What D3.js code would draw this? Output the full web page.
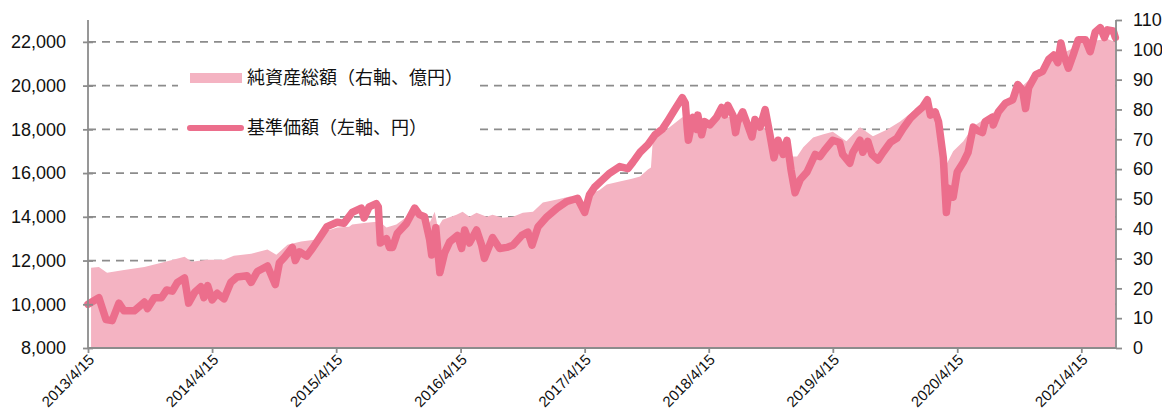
<!DOCTYPE html>
<html>
<head>
<meta charset="utf-8">
<script src="https://cdn.jsdelivr.net/npm/d3@7"></script>
<style>
  body { margin: 0; background: #fff; }
  svg { display: block; }
</style>
</head>
<body>
<svg id="chart"></svg>
<script>
// 基準価額 (left axis, yen)
var navDates = ["2013-04-15","2013-05-17","2013-06-07","2013-06-25","2013-07-15","2013-07-30","2013-08-29","2013-09-28","2013-10-07","2013-10-27",
  "2013-11-17","2013-12-02","2013-12-19","2014-01-03","2014-01-24","2014-02-05","2014-02-23","2014-03-13","2014-03-22","2014-04-02",
  "2014-04-15","2014-04-30","2014-05-20","2014-06-09","2014-06-28","2014-07-27","2014-08-08","2014-08-26","2014-09-25","2014-10-18",
  "2014-10-30","2014-11-14","2014-12-07","2014-12-16","2014-12-28","2015-01-18","2015-02-04","2015-03-02","2015-03-19","2015-04-18",
  "2015-05-08","2015-06-01","2015-06-28","2015-07-06","2015-07-21","2015-08-11","2015-08-17","2015-08-23","2015-09-10","2015-09-19",
  "2015-09-28","2015-10-12","2015-11-08","2015-12-02","2015-12-16","2015-12-31","2016-01-15","2016-01-21","2016-02-02","2016-02-14",
  "2016-02-28","2016-03-14","2016-04-06","2016-04-18","2016-04-27","2016-05-11","2016-06-01","2016-06-16","2016-06-24","2016-07-18",
  "2016-08-08","2016-08-29","2016-09-16","2016-10-12","2016-10-30","2016-11-11","2016-11-29","2016-12-25","2017-01-24","2017-02-22",
  "2017-03-25","2017-04-15","2017-04-29","2017-05-14","2017-06-07","2017-06-28","2017-07-27","2017-08-20","2017-09-04","2017-09-25",
  "2017-10-18","2017-11-08","2017-11-29","2017-12-14","2018-01-01","2018-01-27","2018-02-05","2018-02-11","2018-02-14","2018-02-28",
  "2018-03-11","2018-03-14","2018-03-25","2018-04-03","2018-04-18","2018-05-08","2018-05-23","2018-06-01","2018-06-10","2018-06-25",
  "2018-07-03","2018-07-09","2018-07-24","2018-08-05","2018-08-20","2018-08-29","2018-09-13","2018-09-28","2018-10-12","2018-10-24",
  "2018-11-05","2018-11-20","2018-12-01","2018-12-13","2018-12-25","2019-01-09","2019-01-29","2019-02-22","2019-03-08","2019-03-22",
  "2019-04-15","2019-05-05","2019-05-14","2019-06-04","2019-06-13","2019-07-04","2019-07-12","2019-07-27","2019-08-08","2019-08-26",
  "2019-09-10","2019-10-01","2019-10-21","2019-11-08","2019-11-29","2019-12-19","2020-01-03","2020-01-18","2020-01-27","2020-02-10",
  "2020-02-20","2020-03-05","2020-03-14","2020-03-22","2020-04-03","2020-04-15","2020-05-03","2020-05-17","2020-06-01","2020-06-13",
  "2020-06-28","2020-07-06","2020-07-27","2020-07-30","2020-08-14","2020-09-04","2020-09-25","2020-10-10","2020-10-24","2020-11-02",
  "2020-11-11","2020-12-02","2020-12-22","2021-01-09","2021-01-24","2021-02-05","2021-02-14","2021-02-22","2021-03-08","2021-03-22",
  "2021-04-06","2021-04-27","2021-05-11","2021-05-26","2021-06-10","2021-06-22","2021-07-01","2021-07-18","2021-07-24"];
var navValues = [10000,10300,9300,9250,10050,9700,9700,10100,9800,10300,
  10300,10650,10600,11000,11200,10050,10550,10800,10300,10850,
  10200,10500,10250,11000,11250,11300,11000,11500,11750,10900,
  11900,12150,12600,12000,12400,12200,12550,13150,13550,13750,
  13700,14200,14400,13950,14450,14600,14450,12800,13000,12600,
  12600,13250,13700,14400,14100,14000,12950,12250,13500,11450,
  12350,12850,13150,12550,13400,12800,13400,12700,12100,13050,
  12550,12600,12700,13150,13300,12700,13550,14000,14400,14700,
  14850,14200,15000,15350,15700,16000,16300,16200,16500,16950,
  17300,17750,18000,18350,18800,19450,19200,18000,17500,18550,
  18000,18650,17750,18350,18200,18550,19000,18650,19100,18650,
  17850,18350,18800,18300,17650,18450,18100,18900,17750,16700,
  17500,16850,17500,16150,15100,15700,16050,16850,16750,17050,
  17500,17400,16850,16450,16950,17500,16950,17450,16850,16600,
  16950,17400,17600,18050,18500,18800,19000,19350,18650,18800,
  18350,16700,14200,15300,14900,16050,16500,16950,18100,17950,
  17850,18350,18550,18200,18800,19200,19350,20050,19800,18950,
  19900,20500,20650,21200,21400,21050,21950,21400,20800,21400,
  22100,22100,21550,22450,22650,22200,22550,22500,22200];

// 純資産総額 (right axis, 億円)
var aumDates = ["2013-04-24","2013-05-17","2013-06-10","2013-07-30","2013-09-28","2013-11-17","2014-01-24","2014-02-14","2014-03-31","2014-05-20",
  "2014-06-18","2014-08-08","2014-09-25","2014-10-21","2014-11-23","2015-01-02","2015-02-10","2015-03-10","2015-04-18","2015-05-23",
  "2015-06-01","2015-07-12","2015-08-20","2015-09-10","2015-10-09","2015-11-25","2015-12-25","2016-01-15","2016-01-30","2016-02-08",
  "2016-02-22","2016-04-03","2016-04-21","2016-05-11","2016-06-01","2016-07-01","2016-07-18","2016-08-17","2016-09-16","2016-10-15",
  "2016-11-14","2016-12-13","2017-01-24","2017-03-02","2017-03-31","2017-04-21","2017-05-08","2017-05-29","2017-06-19","2017-07-27",
  "2017-09-01","2017-09-25","2017-10-18","2017-10-27","2017-11-02","2017-12-01","2018-01-01","2018-01-27","2018-02-19","2018-03-28",
  "2018-04-27","2018-05-26","2018-06-25","2018-07-24","2018-08-23","2018-09-22","2018-10-21","2018-11-20","2018-12-16","2018-12-31",
  "2019-01-18","2019-02-16","2019-03-16","2019-04-15","2019-05-25","2019-07-04","2019-08-11","2019-09-22","2019-10-30","2019-12-07",
  "2020-01-18","2020-02-10","2020-02-25","2020-03-08","2020-03-16","2020-04-03","2020-05-03","2020-06-01","2020-07-12","2020-08-20",
  "2020-09-28","2020-11-08","2020-12-16","2021-01-24","2021-03-05","2021-04-12","2021-05-20","2021-07-01","2021-07-24"];
var aumValues = [26.9,27.2,25.2,26.2,27.2,28.6,30.6,28.9,29.6,29.6,
  30.9,31.6,33.0,31.3,34.6,35.7,36.3,39.0,40.4,40.7,
  41.4,42.0,42.4,40.4,41.4,45.4,44.7,42.0,45.7,40.4,
  43.0,44.7,45.7,44.0,45.4,44.0,44.7,43.7,44.0,45.4,
  45.7,48.8,49.8,50.8,50.5,46.4,52.0,53.0,54.8,55.8,
  56.8,57.5,59.9,60.5,70.6,72.3,75.0,77.4,76.7,75.0,
  76.7,77.7,77.4,76.0,75.0,74.0,70.0,67.3,64.2,64.2,
  67.3,70.6,71.6,72.5,69.3,74.0,71.0,73.3,76.0,79.4,
  81.7,80.0,74.0,66.0,62.0,66.0,69.3,74.3,77.4,80.7,
  85.1,89.5,93.5,97.5,99.6,101.9,103.0,103.6,102.6];

var leftTicks = [8000,10000,12000,14000,16000,18000,20000,22000];
var rightTicks = [0,10,20,30,40,50,60,70,80,90,100,110];
var xTickLabels = ["2013/4/15","2014/4/15","2015/4/15","2016/4/15","2017/4/15","2018/4/15","2019/4/15","2020/4/15","2021/4/15"];
var legendLabels = ["純資産総額（右軸、億円）","基準価額（左軸、円）"];

var W = 1162, H = 410;
var plotL = 88, plotR = 1116, plotT = 20, plotB = 348;
var areaColor = "#f4b3c2", lineColor = "#ec6e8c", axisColor = "#8c8c8c";
var numFont = "'Liberation Sans', Arial, sans-serif";
var jpFont = "'Noto Sans CJK JP', sans-serif";

var parse = d3.timeParse("%Y-%m-%d");
var parseTick = d3.timeParse("%Y/%m/%d");

var svg = d3.select("#chart").attr("width", W).attr("height", H);

var x = d3.scaleTime()
  .domain([parse("2013-04-15"), parse("2021-07-26")])
  .range([plotL, plotR]);
var yL = d3.scaleLinear().domain([8000, 23000]).range([plotB, plotT]);
var yR = d3.scaleLinear().domain([0, 110]).range([plotB, plotT]);

var nav = navDates.map(function(d, i) { return { date: parse(d), v: navValues[i] }; });
var aum = aumDates.map(function(d, i) { return { date: parse(d), v: aumValues[i] }; });

// gridlines
svg.append("g")
  .selectAll("line")
  .data(leftTicks.slice(1))
  .enter().append("line")
  .attr("x1", plotL).attr("x2", plotR)
  .attr("y1", function(d) { return yL(d); })
  .attr("y2", function(d) { return yL(d); })
  .attr("stroke", axisColor)
  .attr("stroke-width", 1.8)
  .attr("stroke-dasharray", "8,6");

// legend background hides the grid
svg.append("rect")
  .attr("x", 178).attr("y", 56).attr("width", 302).attr("height", 94)
  .attr("fill", "#fff");

// area
var area = d3.area()
  .x(function(d) { return x(d.date); })
  .y0(yR(0))
  .y1(function(d) { return yR(d.v); });
svg.append("path")
  .datum(aum)
  .attr("d", area)
  .attr("fill", areaColor);

// line
var line = d3.line()
  .x(function(d) { return x(d.date); })
  .y(function(d) { return yL(d.v); });
svg.append("path")
  .datum(nav)
  .attr("d", line)
  .attr("fill", "none")
  .attr("stroke", lineColor)
  .attr("stroke-width", 7.5)
  .attr("stroke-linejoin", "round")
  .attr("stroke-linecap", "round");

// axes
var gL = svg.append("g")
  .attr("transform", "translate(" + plotL + ",0)")
  .call(d3.axisLeft(yL).tickValues(leftTicks).tickFormat(d3.format(",")).tickSize(5).tickPadding(17));
gL.selectAll(".tick line").attr("x2", 5).attr("x1", -5);

var gR = svg.append("g")
  .attr("transform", "translate(" + plotR + ",0)")
  .call(d3.axisRight(yR).tickValues(rightTicks).tickSize(6).tickPadding(11));

var gX = svg.append("g")
  .attr("transform", "translate(0," + plotB + ")")
  .call(d3.axisBottom(x).tickValues(xTickLabels.map(function(s) { return parseTick(s); }))
    .tickFormat(function(d, i) { return xTickLabels[i]; }).tickSize(5));

[gL, gR, gX].forEach(function(g) {
  g.select(".domain").attr("stroke", axisColor).attr("stroke-width", 1.8);
  g.selectAll(".tick line").attr("stroke", axisColor).attr("stroke-width", 1.8);
  g.selectAll("text").attr("fill", "#111").style("font-family", numFont);
});
gL.select(".domain").attr("d", "M0," + plotT + "V" + plotB);
gR.select(".domain").attr("d", "M0," + plotT + "V" + plotB);
gX.select(".domain").attr("d", "M" + plotL + ",0H" + plotR);
gL.selectAll("text").style("font-size", "18px");
gR.selectAll("text").style("font-size", "18px");
gX.selectAll("text")
  .style("font-size", "15px")
  .attr("text-anchor", "end")
  .attr("dy", "0.35em")
  .attr("y", 0)
  .attr("transform", "translate(3,9) rotate(-45)");

// legend
svg.append("rect")
  .attr("x", 190).attr("y", 73).attr("width", 52).attr("height", 10)
  .attr("fill", areaColor);
svg.append("line")
  .attr("x1", 190).attr("x2", 241).attr("y1", 128).attr("y2", 128)
  .attr("stroke", lineColor).attr("stroke-width", 6).attr("stroke-linecap", "round");
svg.selectAll(".leg")
  .data(legendLabels)
  .enter().append("text")
  .attr("x", 247)
  .attr("y", function(d, i) { return i === 0 ? 78 : 128; })
  .attr("dy", "0.36em")
  .style("font-family", jpFont)
  .style("font-size", "18px")
  .attr("fill", "#111")
  .text(function(d) { return d; });
</script>
</body>
</html>
